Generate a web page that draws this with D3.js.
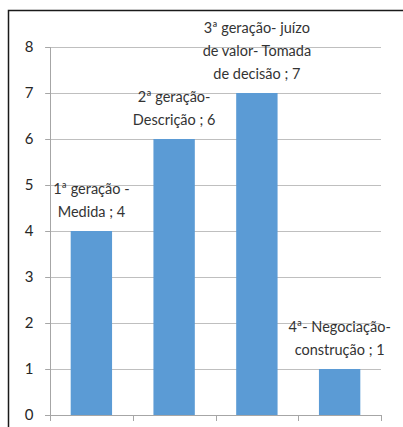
<!DOCTYPE html>
<html>
<head>
<meta charset="utf-8">
<script src="https://cdn.jsdelivr.net/npm/d3@7"></script>
<style>
  html, body { margin: 0; padding: 0; background: #fff; }
  svg { display: block; }
</style>
</head>
<body>
<script>
// Evaluation generations and their counts
const categories = ["1ª geração - Medida", "2ª geração- Descrição", "3ª geração- juízo de valor- Tomada de decisão", "4ª- Negociação- construção"];
const values = [4, 6, 7, 1];
// Data label lines for each bar
const labelLines = [
  ["1ª geração -", "Medida ; 4"],
  ["2ª geração-", "Descrição ; 6"],
  ["3ª geração- juízo", "de valor- Tomada", "de decisão ; 7"],
  ["4ª- Negociação-", "construção ; 1"]
];
const yTicks = [0, 1, 2, 3, 4, 5, 6, 7, 8];

const W = 403, H = 427;
const plot = { left: 50, right: 381, top: 47, bottom: 415 };
const font = "Lato, 'Open Sans', sans-serif";

const svg = d3.select("body").append("svg").attr("width", W).attr("height", H);

// outer frame (extends beyond the right and bottom edges)
svg.append("rect")
  .attr("x", 8.5).attr("y", 10.5).attr("width", 420).attr("height", 440)
  .attr("fill", "#fff").attr("stroke", "#1a1a1a").attr("stroke-width", 1.5);

const x = d3.scaleBand().domain(categories).range([plot.left, plot.right]).paddingInner(0.5).paddingOuter(0.25);
const y = d3.scaleLinear().domain([0, 8]).range([plot.bottom, plot.top]);

// horizontal gridlines
svg.append("g").selectAll("line").data(yTicks.filter(d => d > 0)).join("line")
  .attr("x1", plot.left - 5).attr("x2", plot.right)
  .attr("y1", d => Math.round(y(d)) + 0.5).attr("y2", d => Math.round(y(d)) + 0.5)
  .attr("stroke", "#bfbfbf").attr("stroke-width", 1);

// y axis
const yAxis = svg.append("g").attr("transform", `translate(${plot.left + 0.5},0)`)
  .call(d3.axisLeft(y).tickValues(yTicks).tickSize(5).tickPadding(12).tickFormat(d3.format("d")));
yAxis.select(".domain").attr("stroke", "#a6a6a6").attr("d", `M-5,${y(8) + 0.5}H0V${y(0) + 0.5}`);
yAxis.selectAll(".tick line").attr("stroke", "#a6a6a6");
yAxis.selectAll(".tick text").attr("font-family", font).attr("font-size", 15).attr("fill", "#262626");

// x axis baseline with category boundary ticks
const boundaries = [plot.left, ...categories.map(c => x(c) + x.bandwidth() / 2 + x.step() / 2)];
const xg = svg.append("g");
xg.append("line").attr("x1", plot.left - 5).attr("x2", plot.right)
  .attr("y1", Math.round(y(0)) + 0.5).attr("y2", Math.round(y(0)) + 0.5).attr("stroke", "#a6a6a6");
xg.selectAll("line.tk").data(boundaries).join("line").attr("class", "tk")
  .attr("x1", d => Math.round(d) + 0.5).attr("x2", d => Math.round(d) + 0.5)
  .attr("y1", y(0)).attr("y2", y(0) + 6).attr("stroke", "#a6a6a6");

// bars
svg.append("g").selectAll("rect").data(values).join("rect")
  .attr("x", (d, i) => x(categories[i]))
  .attr("width", x.bandwidth())
  .attr("y", d => y(d))
  .attr("height", d => y(0) - y(d))
  .attr("fill", "#5b9bd5");

// data labels above bars
const lh = 23;
const lg = svg.append("g");
values.forEach((v, i) => {
  const lines = labelLines[i];
  const cx = x(categories[i]) + x.bandwidth() / 2;
  const t = lg.append("text")
    .attr("x", cx)
    .attr("text-anchor", "middle")
    .attr("font-family", font).attr("font-size", 14.5).attr("fill", "#333");
  lines.forEach((ln, k) => {
    t.append("tspan").attr("x", cx)
      .attr("y", y(v) - 14 - (lines.length - 1 - k) * lh)
      .text(ln);
  });
});
</script>
</body>
</html>
